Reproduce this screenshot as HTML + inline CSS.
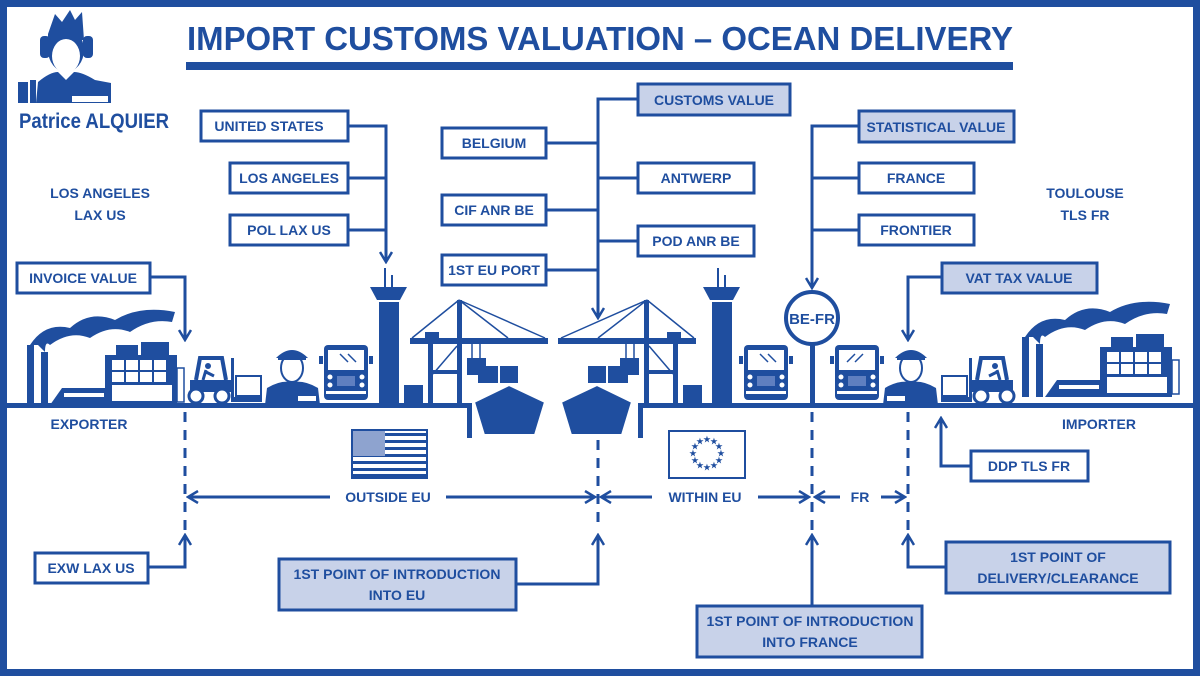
<!DOCTYPE html>
<html><head><meta charset="utf-8"><style>
html,body{margin:0;padding:0;background:#fff}
svg{display:block}
text{font-family:"Liberation Sans",sans-serif;font-weight:bold;fill:#1f4e9f}
</style></head><body>
<svg width="1200" height="676" viewBox="0 0 1200 676" xmlns="http://www.w3.org/2000/svg">
<defs>
<marker id="ar" markerWidth="14" markerHeight="14" refX="12" refY="7" orient="auto" markerUnits="userSpaceOnUse">
<path d="M2,1 L12,7 L2,13" fill="none" stroke="#1f4e9f" stroke-width="2.5"/>
</marker>
<g id="forklift">
 <rect x="190" y="380" width="42" height="12" fill="#1f4e9f"/>
 <path d="M196 380 L200 358 L222 358 L226 380" fill="none" stroke="#1f4e9f" stroke-width="4"/>
 <circle cx="196" cy="396" r="7" fill="#fff" stroke="#1f4e9f" stroke-width="3"/>
 <circle cx="222" cy="396" r="7" fill="#fff" stroke="#1f4e9f" stroke-width="3"/>
 <rect x="231" y="358" width="3" height="44" fill="#1f4e9f"/>
 <rect x="236" y="376" width="25" height="20" fill="#fff" stroke="#1f4e9f" stroke-width="2"/>
 <rect x="234" y="397" width="28" height="5" fill="#1f4e9f"/>
 <circle cx="208" cy="366" r="3" fill="#1f4e9f"/>
 <path d="M206 370 L203 380 M206 372 L214 376" stroke="#1f4e9f" stroke-width="3"/>
</g>
<g id="officer">
 <path d="M265 405 L267 388 Q280 380 292 382 Q305 380 318 388 L320 405 Z" fill="#1f4e9f"/>
 <ellipse cx="292" cy="368" rx="11" ry="14" fill="#fff" stroke="#1f4e9f" stroke-width="2"/>
 <path d="M276 358 Q292 342 308 358 Z" fill="#1f4e9f"/>
 <rect x="278" y="356" width="28" height="4" fill="#1f4e9f"/>
 <rect x="298" y="396" width="18" height="5" fill="#fff"/>
</g>
<g id="truck">
 <rect x="324" y="345" width="44" height="55" rx="4" fill="#1f4e9f"/>
 <rect x="328" y="350" width="36" height="20" fill="#fff"/>
 <line x1="340" y1="354" x2="348" y2="362" stroke="#1f4e9f" stroke-width="1.5"/>
 <line x1="348" y1="354" x2="356" y2="362" stroke="#1f4e9f" stroke-width="1.5"/>
 <rect x="337" y="376" width="18" height="10" fill="#5f7fc0"/>
 <circle cx="330" cy="377" r="2.5" fill="#fff"/><circle cx="330" cy="385" r="2.5" fill="#fff"/>
 <circle cx="362" cy="377" r="2.5" fill="#fff"/><circle cx="362" cy="385" r="2.5" fill="#fff"/>
 <rect x="326" y="391" width="40" height="3" fill="#fff"/>
 <rect x="319" y="356" width="4" height="8" fill="#1f4e9f"/><rect x="369" y="356" width="4" height="8" fill="#1f4e9f"/>
</g>
<g id="tower">
 <path d="M370 287 L407 287 L400 300 L377 300 Z" fill="#1f4e9f"/>
 <rect x="379" y="302" width="20" height="103" fill="#1f4e9f"/>
 <line x1="385" y1="268" x2="385" y2="287" stroke="#1f4e9f" stroke-width="2"/>
 <line x1="392" y1="275" x2="392" y2="287" stroke="#1f4e9f" stroke-width="2"/>
</g>
<g id="factory">
 <path d="M30 345 Q45 322 70 328 Q90 310 115 320 Q140 305 175 312 L172 322 Q150 318 130 332 Q110 324 90 338 Q70 330 50 345 Q45 340 45 352 L38 345 Z" fill="#1f4e9f"/>
 <rect x="27" y="345" width="7" height="60" fill="#1f4e9f"/>
 <rect x="41" y="352" width="7" height="53" fill="#1f4e9f"/>
 <path d="M50 405 L62 388 L110 388 L110 405 Z" fill="#1f4e9f"/>
 <rect x="64" y="393" width="40" height="4" fill="#fff"/>
 <rect x="105" y="355" width="72" height="50" fill="#1f4e9f"/>
 <rect x="116" y="345" width="22" height="10" fill="#1f4e9f"/>
 <rect x="141" y="342" width="28" height="13" fill="#1f4e9f"/>
 <g fill="#fff">
  <rect x="112" y="360" width="12" height="10"/><rect x="126" y="360" width="12" height="10"/><rect x="140" y="360" width="12" height="10"/><rect x="154" y="360" width="12" height="10"/>
  <rect x="112" y="372" width="12" height="10"/><rect x="126" y="372" width="12" height="10"/><rect x="140" y="372" width="12" height="10"/><rect x="154" y="372" width="12" height="10"/>
  <rect x="112" y="385" width="60" height="16"/>
 </g>
 <rect x="177" y="368" width="7" height="34" fill="#fff" stroke="#1f4e9f" stroke-width="1.5"/>
</g>
<g id="crane">
 <rect x="457" y="300" width="5" height="105" fill="#1f4e9f"/>
 <rect x="410" y="338" width="138" height="6" fill="#1f4e9f"/>
 <path d="M459 300 L412 338 M459 300 L545 338 M459 300 L508 338" stroke="#1f4e9f" stroke-width="1.5" fill="none"/>
 <rect x="425" y="332" width="14" height="6" fill="#1f4e9f"/>
 <rect x="428" y="344" width="5" height="61" fill="#1f4e9f"/>
 <rect x="428" y="370" width="34" height="4" fill="#1f4e9f"/>
 <line x1="433" y1="374" x2="457" y2="346" stroke="#1f4e9f" stroke-width="1.5"/>
 <rect x="467" y="358" width="19" height="17" fill="#1f4e9f"/>
 <line x1="472" y1="344" x2="472" y2="358" stroke="#1f4e9f" stroke-width="1.5"/>
 <line x1="480" y1="344" x2="480" y2="358" stroke="#1f4e9f" stroke-width="1.5"/>
 <rect x="404" y="385" width="19" height="20" fill="#1f4e9f"/>
 <rect x="478" y="366" width="20" height="17" fill="#1f4e9f"/><rect x="500" y="366" width="18" height="17" fill="#1f4e9f"/>
 <path d="M474 402 L509 385 L545 402 L535 435 L484 435 Z" fill="#1f4e9f" stroke="#fff" stroke-width="2"/>
</g>
</defs>

<rect x="3.5" y="3.5" width="1193" height="669" fill="none" stroke="#1f4e9f" stroke-width="7"/>

<!-- logo -->
<g fill="#1f4e9f">
 <path d="M48 34 L55 14 L62 22 L70 10 L75 20 L82 12 L84 40 L48 40 Z"/>
 <ellipse cx="66" cy="50" rx="18" ry="22"/>
 <ellipse cx="66" cy="56" rx="14" ry="17" fill="#fff" />
 <rect x="40" y="36" width="10" height="22" rx="4"/>
 <rect x="83" y="36" width="10" height="22" rx="4"/>
 <path d="M36 103 L38 82 Q50 72 58 72 L66 80 L74 72 Q82 72 95 80 L111 83 L111 103 Z"/>
 <rect x="18" y="82" width="10" height="21"/>
 <rect x="30" y="80" width="6" height="23"/>
 <rect x="72" y="96" width="36" height="6" fill="#fff"/>
</g>
<text x="19" y="128" font-size="21" textLength="150" lengthAdjust="spacingAndGlyphs">Patrice ALQUIER</text>

<text x="600" y="50" font-size="33" text-anchor="middle" textLength="826" lengthAdjust="spacingAndGlyphs">IMPORT CUSTOMS VALUATION – OCEAN DELIVERY</text>
<rect x="186" y="62" width="827" height="8" fill="#1f4e9f"/>

<rect x="7" y="403" width="465" height="5" fill="#1f4e9f"/>
<rect x="638" y="403" width="555" height="5" fill="#1f4e9f"/>
<rect x="467" y="403" width="5" height="35" fill="#1f4e9f"/>
<rect x="638" y="403" width="5" height="35" fill="#1f4e9f"/>

<use href="#factory"/>
<use href="#forklift"/>
<use href="#officer"/>
<use href="#truck"/>
<use href="#tower"/>
<use href="#crane"/>
<use href="#crane" transform="translate(1106,0) scale(-1,1)"/>
<use href="#tower" transform="translate(333,0)"/>
<use href="#truck" transform="translate(420,0)"/>
<g transform="translate(1203,0) scale(-1,1)">
 <use href="#forklift"/><use href="#officer"/><use href="#truck"/>
</g>
<use href="#factory" transform="translate(995,-8)"/>
<rect x="1000" y="403" width="190" height="5" fill="#1f4e9f"/>

<rect x="810" y="340" width="5" height="65" fill="#1f4e9f"/>
<circle cx="812" cy="318" r="26" fill="#fff" stroke="#1f4e9f" stroke-width="4"/>
<text x="812" y="324" font-size="15" text-anchor="middle">BE-FR</text>

<g fill="none" stroke="#1f4e9f" stroke-width="3">
 <polyline points="348,126 386,126 386,262" marker-end="url(#ar)"/>
 <line x1="348" y1="178" x2="386" y2="178"/>
 <line x1="348" y1="230" x2="386" y2="230"/>
 <polyline points="150,277 185,277 185,340" marker-end="url(#ar)"/>
 <polyline points="637,99 598,99 598,318" marker-end="url(#ar)"/>
 <line x1="546" y1="143" x2="598" y2="143"/>
 <line x1="546" y1="210" x2="598" y2="210"/>
 <line x1="546" y1="270" x2="598" y2="270"/>
 <line x1="637" y1="178" x2="598" y2="178"/>
 <line x1="637" y1="241" x2="598" y2="241"/>
 <polyline points="858,126 812,126 812,288" marker-end="url(#ar)"/>
 <line x1="858" y1="178" x2="812" y2="178"/>
 <line x1="858" y1="230" x2="812" y2="230"/>
 <polyline points="941,277 908,277 908,340" marker-end="url(#ar)"/>
 <g stroke-dasharray="10,8">
  <line x1="185" y1="412" x2="185" y2="532"/>
  <line x1="598" y1="440" x2="598" y2="530"/>
  <line x1="812" y1="412" x2="812" y2="530"/>
  <line x1="908" y1="412" x2="908" y2="530"/>
 </g>
 <line x1="330" y1="497" x2="188" y2="497" marker-end="url(#ar)"/>
 <line x1="446" y1="497" x2="595" y2="497" marker-end="url(#ar)"/>
 <line x1="652" y1="497" x2="601" y2="497" marker-end="url(#ar)"/>
 <line x1="758" y1="497" x2="809" y2="497" marker-end="url(#ar)"/>
 <line x1="840" y1="497" x2="815" y2="497" marker-end="url(#ar)"/>
 <line x1="881" y1="497" x2="905" y2="497" marker-end="url(#ar)"/>
 <polyline points="148,567 185,567 185,535" marker-end="url(#ar)"/>
 <polyline points="516,584 598,584 598,535" marker-end="url(#ar)"/>
 <line x1="812" y1="605" x2="812" y2="535" marker-end="url(#ar)"/>
 <polyline points="945,567 908,567 908,535" marker-end="url(#ar)"/>
 <polyline points="970,466 941,466 941,418" marker-end="url(#ar)"/>
</g>

<g stroke="#1f4e9f" stroke-width="3" fill="#fff">
 <rect x="201" y="111" width="147" height="30"/>
 <rect x="230" y="163" width="118" height="30"/>
 <rect x="230" y="215" width="118" height="30"/>
 <rect x="17" y="263" width="133" height="30"/>
 <rect x="442" y="128" width="104" height="30"/>
 <rect x="442" y="195" width="104" height="30"/>
 <rect x="442" y="255" width="104" height="30"/>
 <rect x="638" y="163" width="116" height="30"/>
 <rect x="638" y="226" width="116" height="30"/>
 <rect x="859" y="163" width="115" height="30"/>
 <rect x="859" y="215" width="115" height="30"/>
 <rect x="35" y="553" width="113" height="30"/>
 <rect x="971" y="451" width="117" height="30"/>
</g>
<g stroke="#1f4e9f" stroke-width="3" fill="#c8d2e9">
 <rect x="638" y="84" width="152" height="31"/>
 <rect x="859" y="111" width="155" height="31"/>
 <rect x="942" y="263" width="155" height="30"/>
 <rect x="279" y="559" width="237" height="51"/>
 <rect x="697" y="606" width="225" height="51"/>
 <rect x="946" y="542" width="224" height="51"/>
</g>

<g font-size="14" text-anchor="middle">
 <text x="269" y="131">UNITED STATES</text>
 <text x="289" y="183">LOS ANGELES</text>
 <text x="289" y="235">POL LAX US</text>
 <text x="83" y="283">INVOICE VALUE</text>
 <text x="100" y="198">LOS ANGELES</text>
 <text x="100" y="220">LAX US</text>
 <text x="494" y="148">BELGIUM</text>
 <text x="494" y="215">CIF ANR BE</text>
 <text x="494" y="275">1ST EU PORT</text>
 <text x="714" y="105">CUSTOMS VALUE</text>
 <text x="696" y="183">ANTWERP</text>
 <text x="696" y="246">POD ANR BE</text>
 <text x="936" y="132">STATISTICAL VALUE</text>
 <text x="916" y="183">FRANCE</text>
 <text x="916" y="235">FRONTIER</text>
 <text x="1085" y="198">TOULOUSE</text>
 <text x="1085" y="220">TLS FR</text>
 <text x="1019" y="283">VAT TAX VALUE</text>
 <text x="89" y="429">EXPORTER</text>
 <text x="1099" y="429">IMPORTER</text>
 <text x="388" y="502">OUTSIDE EU</text>
 <text x="705" y="502">WITHIN EU</text>
 <text x="860" y="502">FR</text>
 <text x="91" y="573">EXW LAX US</text>
 <text x="1029" y="471">DDP TLS FR</text>
 <text x="397" y="579">1ST POINT OF INTRODUCTION</text>
 <text x="397" y="600">INTO EU</text>
 <text x="810" y="626">1ST POINT OF INTRODUCTION</text>
 <text x="810" y="647">INTO FRANCE</text>
 <text x="1058" y="562">1ST POINT OF</text>
 <text x="1058" y="583">DELIVERY/CLEARANCE</text>
</g>

<rect x="352" y="430" width="75" height="48" fill="#fff" stroke="#1f4e9f" stroke-width="2"/>
<g fill="#1f4e9f">
 <rect x="352" y="433" width="75" height="3"/><rect x="352" y="440" width="75" height="3"/><rect x="352" y="447" width="75" height="3"/>
 <rect x="352" y="454" width="75" height="3"/><rect x="352" y="461" width="75" height="3"/><rect x="352" y="468" width="75" height="3"/><rect x="352" y="474" width="75" height="3"/>
 <rect x="353" y="431" width="32" height="25" fill="#8ea3cf"/>
</g>
<rect x="669" y="431" width="76" height="47" fill="#fff" stroke="#1f4e9f" stroke-width="2"/>
<g font-size="8" text-anchor="middle">
 <text x="707" y="442">★</text><text x="714" y="444">★</text><text x="719" y="449">★</text><text x="721" y="456">★</text>
 <text x="719" y="463">★</text><text x="714" y="468">★</text><text x="707" y="470">★</text><text x="700" y="468">★</text>
 <text x="695" y="463">★</text><text x="693" y="456">★</text><text x="695" y="449">★</text><text x="700" y="444">★</text>
</g>
</svg>
</body></html>
